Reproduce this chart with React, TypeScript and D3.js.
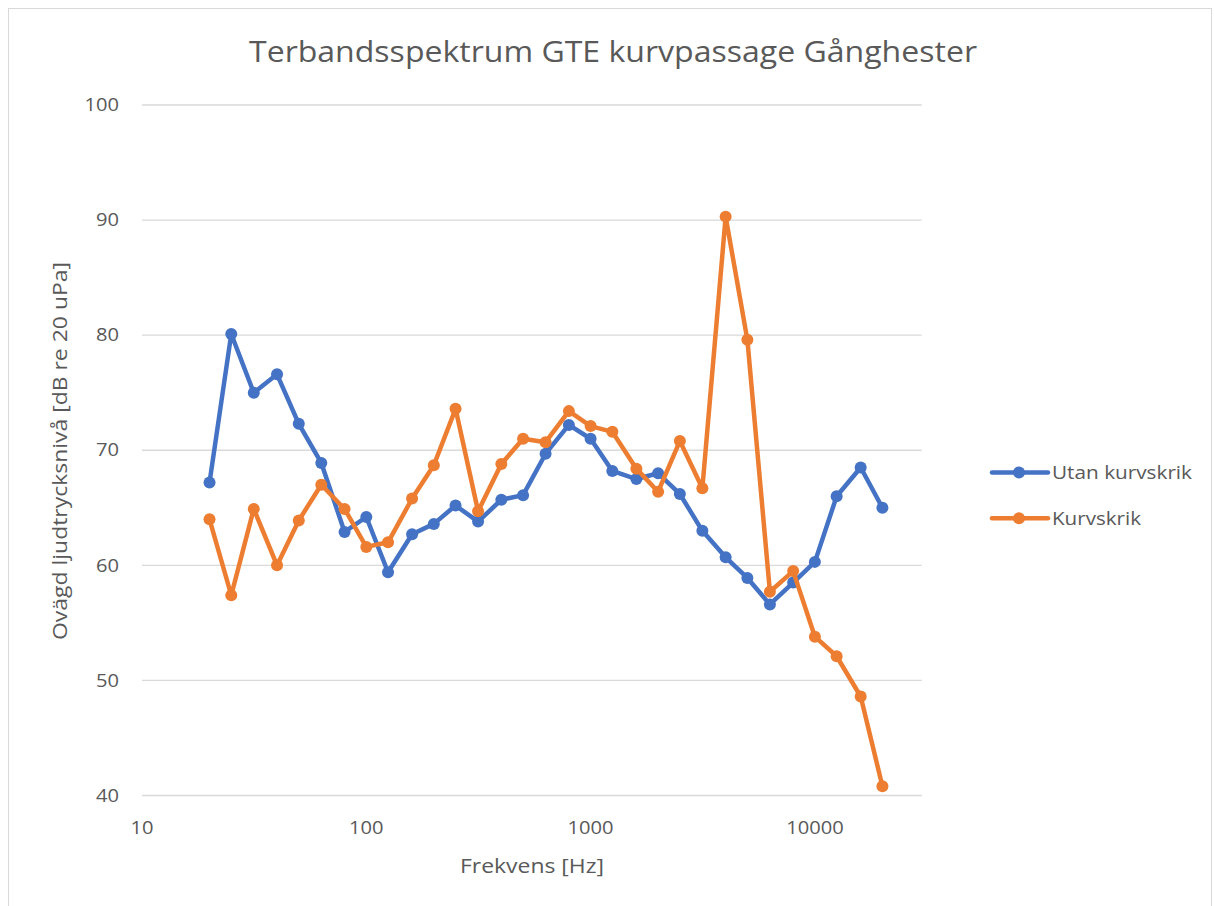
import React from "react";
import * as d3 from "d3";

const frequencies = [20, 25, 31.5, 40, 50, 63, 80, 100, 125, 160, 200, 250, 315, 400, 500, 630, 800, 1000, 1250, 1600, 2000, 2500, 3150, 4000, 5000, 6300, 8000, 10000, 12500, 16000, 20000];
const utanKurvskrik = [67.2, 80.1, 75.0, 76.6, 72.3, 68.9, 62.9, 64.2, 59.4, 62.7, 63.6, 65.2, 63.8, 65.7, 66.1, 69.7, 72.2, 71.0, 68.2, 67.5, 68.0, 66.2, 63.0, 60.7, 58.9, 56.6, 58.5, 60.3, 66.0, 68.5, 65.0];
const kurvskrik = [64.0, 57.4, 64.9, 60.0, 63.9, 67.0, 64.9, 61.6, 62.0, 65.8, 68.7, 73.6, 64.7, 68.8, 71.0, 70.7, 73.4, 72.1, 71.6, 68.4, 66.4, 70.8, 66.7, 90.3, 79.6, 57.7, 59.5, 53.8, 52.1, 48.6, 40.8];
const xTicks = [10, 100, 1000, 10000];
const yTicks = [40, 50, 60, 70, 80, 90, 100];
const seriesNames = ["Utan kurvskrik", "Kurvskrik"];
const seriesColors = ["#4472C4", "#ED7D31"];

const W = 1214;
const H = 906;
const plotLeft = 142;
const plotRight = 921.7;
const plotTop = 105;
const plotBottom = 795.5;
const decade = 224.3;
const xMax = Math.pow(10, 1 + (plotRight - plotLeft) / decade);

const FONT = "'Open Sans', 'DejaVu Sans', sans-serif";
const TEXT = "#595959";
const DIGIT_W = 11.5;

export default function App() {
  const x = d3.scaleLog().domain([10, xMax]).range([plotLeft, plotRight]);
  const y = d3.scaleLinear().domain([40, 100]).range([plotBottom, plotTop]);
  const series = [utanKurvskrik, kurvskrik];
  const line = d3
    .line<number>()
    .x((_, i) => x(frequencies[i]))
    .y((d) => y(d));
  const legendWidths = [140, 89];

  return (
    <svg
      width={W}
      height={H}
      style={{ position: "absolute", left: 0, top: 0, background: "#fff" }}
      fontFamily={FONT}
    >
      <rect x={8.5} y={8.5} width={1203} height={910} fill="#fff" stroke="#d9d9d9" strokeWidth={1} />
      <text
        x={249}
        y={62}
        fontSize={29}
        fill={TEXT}
        textLength={728}
        lengthAdjust="spacingAndGlyphs"
      >
        Terbandsspektrum GTE kurvpassage Gånghester
      </text>
      {yTicks.map((t) => {
        const s = String(t);
        return (
          <g key={t}>
            <line x1={plotLeft} x2={plotRight} y1={y(t)} y2={y(t)} stroke="#d9d9d9" strokeWidth={1.3} />
            <text
              x={119 - s.length * DIGIT_W}
              y={y(t) + 6.2}
              fontSize={17.5}
              fill={TEXT}
              textLength={s.length * DIGIT_W}
              lengthAdjust="spacingAndGlyphs"
            >
              {s}
            </text>
          </g>
        );
      })}
      {xTicks.map((t) => {
        const s = String(t);
        return (
          <text
            key={t}
            x={x(t) - (s.length * DIGIT_W) / 2}
            y={834}
            fontSize={17.5}
            fill={TEXT}
            textLength={s.length * DIGIT_W}
            lengthAdjust="spacingAndGlyphs"
          >
            {s}
          </text>
        );
      })}
      <text
        x={460}
        y={873}
        fontSize={19.5}
        fill={TEXT}
        textLength={144}
        lengthAdjust="spacingAndGlyphs"
      >
        Frekvens [Hz]
      </text>
      <text
        transform={`translate(67,640) rotate(-90)`}
        fontSize={19.5}
        fill={TEXT}
        textLength={378}
        lengthAdjust="spacingAndGlyphs"
      >
        Ovägd ljudtrycksnivå [dB re 20 uPa]
      </text>
      {series.map((s, si) => (
        <g key={si}>
          <path d={line(s) || ""} fill="none" stroke={seriesColors[si]} strokeWidth={4.5} strokeLinejoin="round" />
          {s.map((v, i) => (
            <circle key={i} cx={x(frequencies[i])} cy={y(v)} r={6} fill={seriesColors[si]} />
          ))}
        </g>
      ))}
      {seriesNames.map((n, i) => {
        const ly = 472.5 + i * 45.8;
        return (
          <g key={n}>
            <line x1={992} x2={1048} y1={ly} y2={ly} stroke={seriesColors[i]} strokeWidth={4.5} strokeLinecap="round" />
            <circle cx={1019} cy={ly} r={6} fill={seriesColors[i]} />
            <text
              x={1052}
              y={ly + 6.5}
              fontSize={18}
              fill={TEXT}
              textLength={legendWidths[i]}
              lengthAdjust="spacingAndGlyphs"
            >
              {n}
            </text>
          </g>
        );
      })}
    </svg>
  );
}
